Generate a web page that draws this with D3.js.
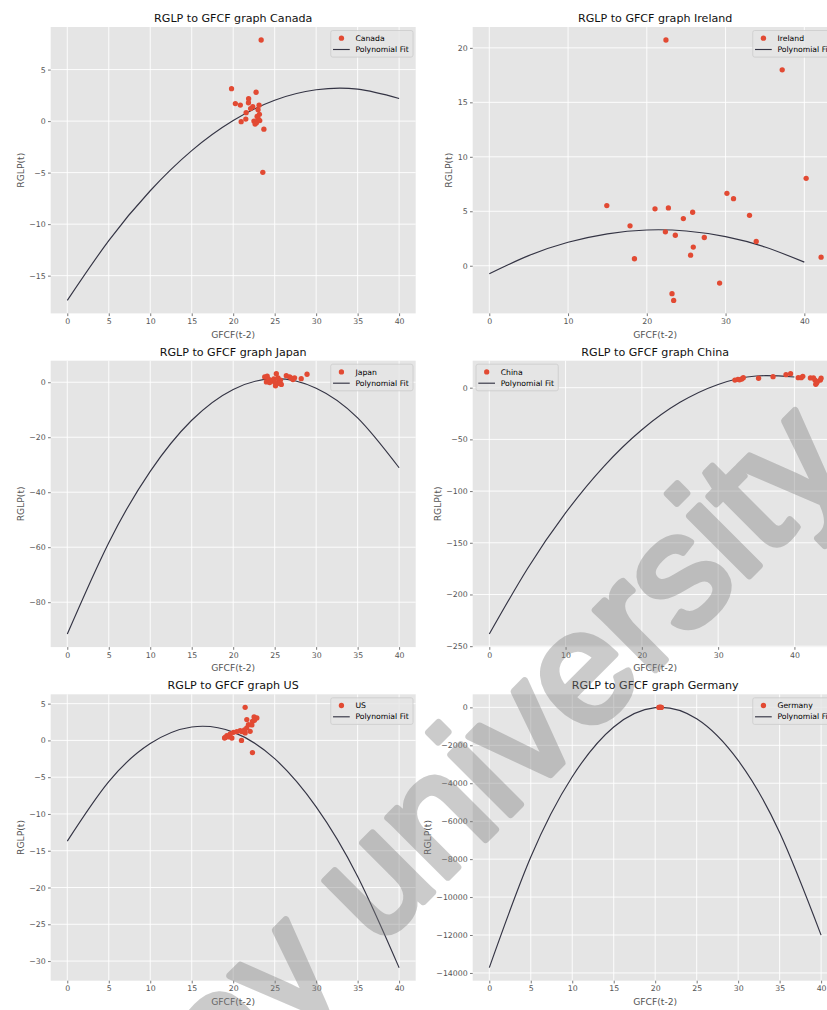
<!DOCTYPE html>
<html>
<head>
<meta charset="utf-8">
<script src="https://cdn.jsdelivr.net/npm/d3@7"></script>
<style>
  html, body { margin: 0; padding: 0; background: #ffffff; overflow: hidden; }
  svg { display: block; }
</style>
</head>
<body>
<svg id="chart" width="827" height="1010"></svg>
<script>
// ---------------- DATA ----------------
const countries = ["Canada", "Ireland", "Japan", "China", "US", "Germany"];
const titlePrefix = "RGLP to GFCF graph ";
const xLabel = "GFCF(t-2)";
const yLabel = "RGLP(t)";
const fitLabel = "Polynomial Fit";

// x positions at which the polynomial fit line was read
const fitX = [0, 5, 10, 15, 20, 25, 30, 35, 40];

const canadaFit  = [-17.40, -11.60, -6.76, -2.87, 0.05, 2.03, 3.04, 3.10, 2.20];
const irelandFit = [-0.73, 0.93, 2.15, 2.93, 3.28, 3.19, 2.67, 1.72, 0.33];
const japanFit   = [-91.6, -58.35, -32.4, -13.83, -2.6, 1.3, -2.15, -12.95, -31.1];
const chinaFit   = [-238.3, -175.1, -121.1, -76.3, -40.7, -14.2, 3.15, 11.3, 10.3];
const usFit      = [-13.7, -5.6, -0.43, 1.82, 1.13, -2.48, -9.03, -18.49, -30.9];
const germanyFit = [-13722, -7890, -3657, -1033, -14, -602, -2797, -6598, -12008];

const canadaPts = [[19.8,3.15],[22.76,2.8],[21.86,2.18],[21.84,1.78],[20.26,1.7],[20.86,1.56],[23.12,1.55],
  [22.36,1.4],[22.1,1.22],[23.0,1.1],[21.56,0.82],[23.16,0.66],[22.88,0.45],[23.04,0.2],[21.52,0.2],
  [20.96,-0.06],[22.5,0.0],[22.8,-0.15],[22.64,-0.28],[23.2,0.05],[23.7,-0.78],[23.57,-4.97],[23.37,7.87]];
const irelandPts = [[22.43,20.72],[37.19,17.98],[40.23,8.02],[30.17,6.65],[31.01,6.16],[14.92,5.52],[21.04,5.22],
  [22.74,5.31],[25.82,4.91],[33.04,4.63],[24.64,4.33],[17.87,3.66],[22.36,3.11],[23.62,2.8],[27.3,2.59],
  [33.89,2.23],[25.9,1.71],[25.56,0.97],[18.43,0.64],[42.13,0.79],[29.24,-1.59],[23.2,-2.56],[23.41,-3.18]];
const japanPts = [[23.8,1.9],[24.1,2.2],[24.0,0.1],[24.3,1.0],[24.6,0.5],[24.9,1.2],[25.2,3.1],[25.1,-1.3],
  [25.3,-0.5],[25.5,0.3],[25.7,0.8],[25.4,1.6],[25.8,-0.8],[25.0,0.0],[26.4,2.4],[26.8,1.9],[27.2,1.0],
  [27.4,1.6],[27.0,1.5],[28.2,1.3],[28.9,2.9],[24.4,-0.1],[25.6,-0.3]];
const chinaPts = [[32.2,7.4],[32.6,8.1],[33.1,8.4],[33.3,9.7],[32.8,7.6],[35.3,9.1],[37.2,10.6],[38.9,12.6],
  [39.5,13.5],[40.5,9.7],[40.9,9.7],[41.1,11.0],[42.1,9.4],[42.5,9.4],[42.7,7.4],[42.8,3.3],[43.0,5.8],
  [43.4,7.4],[42.9,4.5],[43.5,9.1]];
const usPts = [[21.44,4.5],[21.64,2.83],[22.52,3.19],[22.85,3.05],[22.32,2.6],[21.84,2.15],[21.64,1.7],
  [22.04,1.24],[21.44,1.02],[20.84,1.33],[20.44,1.2],[20.04,1.1],[19.64,0.88],[19.24,0.65],[18.96,0.33],
  [19.44,0.5],[19.84,0.33],[21.0,0.0],[22.32,-1.66],[21.04,1.2],[21.36,1.43],[22.56,2.73],[22.25,2.1],[19.04,0.4]];
const germanyPts = [[20.45,1.5],[20.55,0.5],[20.6,2.2],[20.65,-0.8],[20.7,1.0],[20.75,0.3],[20.5,-1.2]];

const canadaXTicks  = [0, 5, 10, 15, 20, 25, 30, 35, 40];
const canadaYTicks  = [-15, -10, -5, 0, 5];
const irelandXTicks = [0, 10, 20, 30, 40];
const irelandYTicks = [0, 5, 10, 15, 20];
const japanXTicks   = [0, 5, 10, 15, 20, 25, 30, 35, 40];
const japanYTicks   = [-80, -60, -40, -20, 0];
const chinaXTicks   = [0, 10, 20, 30, 40];
const chinaYTicks   = [-250, -200, -150, -100, -50, 0];
const usXTicks      = [0, 5, 10, 15, 20, 25, 30, 35, 40];
const usYTicks      = [-30, -25, -20, -15, -10, -5, 0, 5];
const germanyXTicks = [0, 5, 10, 15, 20, 25, 30, 35, 40];
const germanyYTicks = [-14000, -12000, -10000, -8000, -6000, -4000, -2000, 0];

const legendPlace = ["right", "right", "right", "left", "right", "right"];
const watermarkText = "sunway university";

// ---------------- LAYOUT / STYLE ----------------
const colLeft = [50.7, 472.7];
const rowTop = [27, 360.7, 694.3];
const plotW = 365, plotH = 286.4;
const FONT = "'DejaVu Sans', 'Noto Sans', sans-serif";
const pointColor = "#E24A33";
const lineColor = "#343444";
const bgColor = "#E5E5E5";
const tickColor = "#555555";

const panels = [
  {fit: canadaFit, pts: canadaPts, xt: canadaXTicks, yt: canadaYTicks},
  {fit: irelandFit, pts: irelandPts, xt: irelandXTicks, yt: irelandYTicks},
  {fit: japanFit, pts: japanPts, xt: japanXTicks, yt: japanYTicks},
  {fit: chinaFit, pts: chinaPts, xt: chinaXTicks, yt: chinaYTicks},
  {fit: usFit, pts: usPts, xt: usXTicks, yt: usYTicks},
  {fit: germanyFit, pts: germanyPts, xt: germanyXTicks, yt: germanyYTicks}
];

const svg = d3.select("#chart");
const fmt = d3.format("");

function padded(ext) {
  const m = (ext[1] - ext[0]) * 0.05;
  return [ext[0] - m, ext[1] + m];
}

panels.forEach((p, i) => {
  const col = i % 2, row = Math.floor(i / 2);
  const name = countries[i];
  const g = svg.append("g").attr("transform", `translate(${colLeft[col]},${rowTop[row]})`);

  const allX = fitX.concat(p.pts.map(d => d[0]));
  const allY = p.fit.concat(p.pts.map(d => d[1]));
  const x = d3.scaleLinear().domain(padded(d3.extent(allX))).range([0, plotW]);
  const y = d3.scaleLinear().domain(padded(d3.extent(allY))).range([plotH, 0]);

  // background
  g.append("rect").attr("width", plotW).attr("height", plotH).attr("fill", bgColor);

  // grid
  g.append("g").selectAll("line").data(p.xt).join("line")
    .attr("x1", d => x(d)).attr("x2", d => x(d)).attr("y1", 0).attr("y2", plotH)
    .attr("stroke", "#ffffff").attr("stroke-width", 0.9);
  g.append("g").selectAll("line").data(p.yt).join("line")
    .attr("y1", d => y(d)).attr("y2", d => y(d)).attr("x1", 0).attr("x2", plotW)
    .attr("stroke", "#ffffff").attr("stroke-width", 0.9);

  // axes
  const xa = g.append("g").attr("transform", `translate(0,${plotH})`)
    .call(d3.axisBottom(x).tickValues(p.xt).tickSize(2.7).tickPadding(2.4).tickFormat(fmt));
  const ya = g.append("g")
    .call(d3.axisLeft(y).tickValues(p.yt).tickSize(2.7).tickPadding(2.3).tickFormat(fmt));
  [xa, ya].forEach(a => {
    a.select(".domain").remove();
    a.selectAll(".tick line").attr("stroke", tickColor).attr("stroke-width", 0.8);
    a.selectAll(".tick text").attr("fill", tickColor).style("font-family", FONT).style("font-size", "7.8px");
  });

  // fit line
  const line = d3.line().x(d => x(d[0])).y(d => y(d[1])).curve(d3.curveNatural);
  g.append("path").datum(fitX.map((v, k) => [v, p.fit[k]]))
    .attr("d", line).attr("fill", "none").attr("stroke", lineColor).attr("stroke-width", 1.15);

  // points
  g.append("g").selectAll("circle").data(p.pts).join("circle")
    .attr("cx", d => x(d[0])).attr("cy", d => y(d[1])).attr("r", 2.65)
    .attr("fill", pointColor);

  // title
  g.append("text").attr("x", plotW / 2).attr("y", -5).attr("text-anchor", "middle")
    .style("font-family", FONT).style("font-size", "11.1px").style("font-weight", "normal")
    .attr("fill", "#111").text(titlePrefix + name);

  // x label
  g.append("text").attr("x", plotW / 2).attr("y", plotH + 24.2).attr("text-anchor", "middle")
    .style("font-family", FONT).style("font-size", "9.2px").attr("fill", tickColor)
    .text(xLabel);

  // y label, placed beside widest tick label
  let maxW = 0;
  ya.selectAll(".tick text").each(function() { maxW = Math.max(maxW, this.getComputedTextLength()); });
  const lx = -(maxW + 5 + 3.1 + 2.2);
  g.append("text").attr("transform", `translate(${lx},${plotH / 2}) rotate(-90)`)
    .attr("text-anchor", "middle")
    .style("font-family", FONT).style("font-size", "9.2px").attr("fill", tickColor)
    .text(yLabel);

  // legend
  const lg = g.append("g");
  const box = lg.append("rect");
  const t1 = lg.append("text").attr("x", 24.7).attr("y", 7.7).attr("dy", "0.35em")
    .style("font-family", FONT).style("font-size", "7.7px").attr("fill", "#000").text(name);
  const t2 = lg.append("text").attr("x", 24.7).attr("y", 19).attr("dy", "0.35em")
    .style("font-family", FONT).style("font-size", "7.7px").attr("fill", "#000").text(fitLabel);
  const tw = Math.max(t1.node().getComputedTextLength(), t2.node().getComputedTextLength());
  const lw = tw + 29;
  box.attr("width", lw).attr("height", 26.6).attr("rx", 2).attr("ry", 2)
    .attr("fill", bgColor).attr("fill-opacity", 0.8).attr("stroke", "#CCCCCC").attr("stroke-width", 0.8);
  lg.append("circle").attr("cx", 10.7).attr("cy", 7.7).attr("r", 2.65).attr("fill", pointColor);
  lg.append("line").attr("x1", 2.3).attr("x2", 19).attr("y1", 19).attr("y2", 19)
    .attr("stroke", lineColor).attr("stroke-width", 1.15);
  const lx0 = legendPlace[i] === "right" ? plotW - 2.7 - lw : 3.3;
  lg.attr("transform", `translate(${lx0},3.5)`);
});

// watermark (thickened strokes, drawn as one translucent layer)
svg.append("g").attr("opacity", 0.4)
  .append("text")
  .attr("transform", "translate(855,470) rotate(-45)")
  .attr("text-anchor", "end")
  .style("font-family", "'Liberation Sans', Arial, sans-serif")
  .style("font-size", "160px")
  .attr("fill", "#808080")
  .attr("stroke", "#808080").attr("stroke-width", 7).attr("stroke-linejoin", "round")
  .text(watermarkText);
</script>
</body>
</html>
